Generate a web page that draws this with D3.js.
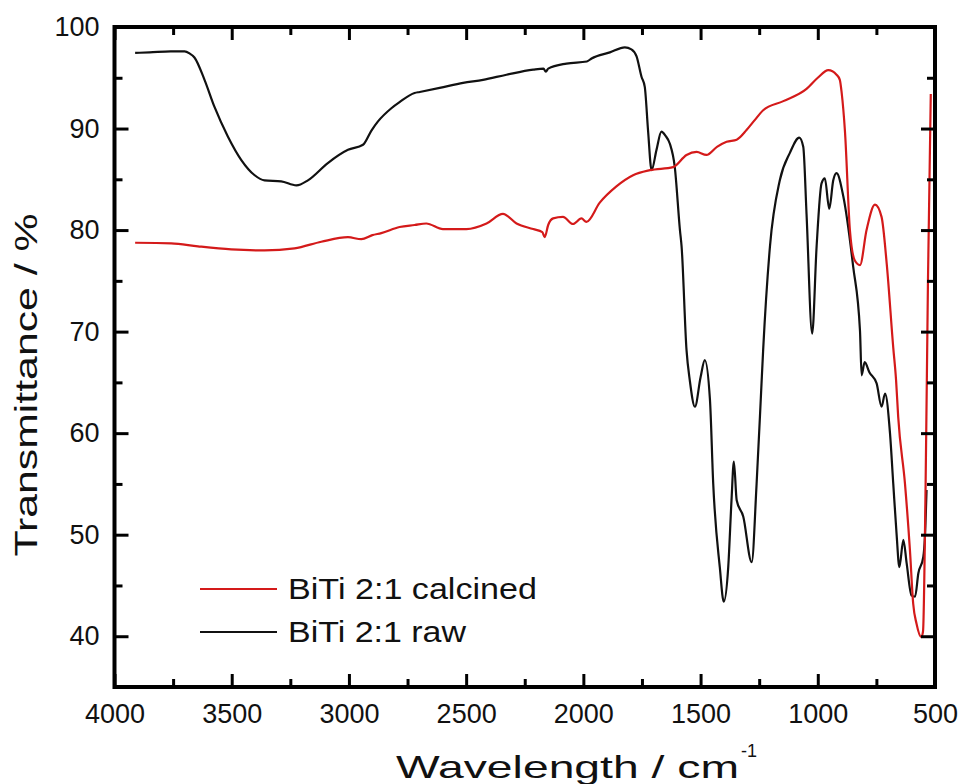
<!DOCTYPE html>
<html>
<head>
<meta charset="utf-8">
<script src="https://cdn.jsdelivr.net/npm/d3@7"></script>
<style>
  html, body { margin: 0; padding: 0; background: #fff; }
  svg { display: block; }
  text { font-family: "Liberation Sans", Arial, sans-serif; fill: #111; }
</style>
</head>
<body>
<svg id="chart" width="959" height="784"></svg>
<script>
// ---- data ----
const seriesNames = ["BiTi 2:1 calcined", "BiTi 2:1 raw"];
const seriesColors = ["#d41a1a", "#111111"];

const rawWavenumber = [3912,3850,3760,3701,3680,3659,3616,3573,3516,3459,3402,3360,3289,3224,3175,3090,3004,2940,2904,2876,2819,2784,2720,2698,2613,2513,2428,2328,2214,2170,2160,2150,2072,1985,1965,1887,1823,1795,1773,1752,1738,1724,1709,1688,1667,1650,1631,1610,1588,1581,1560,1546,1524,1500,1482,1460,1446,1418,1401,1382,1368,1358,1346,1318,1282,1261,1240,1233,1204,1162,1119,1079,1062,1048,1024,1005,984,970,951,934,920,891,849,820,813,800,780,749,728,713,692,678,664,652,635,621,600,585,571,550,543,536];
const rawT = [97.45,97.5,97.6,97.6,97.4,97.0,94.8,92.1,89.2,86.9,85.4,84.9,84.8,84.4,84.9,86.6,87.9,88.4,89.8,90.7,92.0,92.6,93.5,93.6,94.0,94.5,94.8,95.3,95.8,95.9,95.6,95.9,96.4,96.6,96.9,97.5,98.0,97.8,97.1,95.1,94.1,89.8,85.9,87.9,89.7,89.3,88.5,86.2,80.0,78.4,68.2,65.2,62.6,65.5,67.2,63.3,55.0,46.8,43.4,46.8,53.4,57.2,53.4,51.8,47.3,55.0,64.9,68.2,78.4,84.9,87.6,89.1,88.2,81.6,69.8,78.4,84.6,85.1,82.1,84.9,85.6,83.3,76.4,70.1,65.7,67.0,66.0,64.9,62.6,63.9,60.0,55.0,50.1,46.8,49.5,47.2,44.0,43.9,46.2,47.8,49.8,54.4];

const calWavenumber = [3912,3758,3644,3502,3360,3232,3118,3004,2947,2900,2862,2784,2720,2670,2599,2499,2413,2343,2285,2214,2175,2165,2150,2129,2087,2044,2008,1987,1930,1859,1788,1716,1617,1560,1517,1475,1430,1389,1346,1304,1270,1233,1147,1048,1000,955,920,906,898,884,863,842,820,792,756,728,706,678,666,657,628,607,593,579,558,551,540,530,518];
const calT = [78.75,78.7,78.4,78.1,78.0,78.2,78.85,79.3,79.1,79.5,79.7,80.3,80.5,80.65,80.1,80.1,80.65,81.6,80.65,80.1,79.8,79.3,80.5,81.15,81.3,80.6,81.15,80.8,82.7,84.3,85.4,85.9,86.2,87.4,87.7,87.4,88.2,88.7,88.9,89.85,90.8,91.8,92.7,93.9,95.0,95.75,95.3,94.8,93.5,89.7,80.0,77.0,76.55,80.0,82.5,81.3,76.7,68.4,65.2,61.6,55.0,48.5,43.2,41.25,39.9,40.5,55,75,93.4];

const xMajorTicks = [4000,3500,3000,2500,2000,1500,1000,500];
const yMajorTicks = [40,50,60,70,80,90,100];
const xTitle = "Wavelength / cm";
const xTitleSup = "-1";
const yTitle = "Transmittance / %";

// ---- layout ----
const L = 114.5, R = 935, T = 27, B = 687;
const svg = d3.select("#chart");

const x = d3.scaleLinear().domain([4000, 500]).range([L, R]);
const y = d3.scaleLinear().domain([35, 100]).range([B, T]);

const clipId = "plotclip";
svg.append("defs").append("clipPath").attr("id", clipId)
  .append("rect").attr("x", L).attr("y", T).attr("width", R - L).attr("height", B - T);

const line = d3.line().x(d => x(d[0])).y(d => y(d[1])).curve(d3.curveMonotoneX);

const rawData = rawWavenumber.map((w, i) => [w, rawT[i]]);
const calData = calWavenumber.map((w, i) => [w, calT[i]]);

const plot = svg.append("g").attr("clip-path", `url(#${clipId})`);
plot.append("path").datum(rawData).attr("d", line)
  .attr("fill", "none").attr("stroke", seriesColors[1]).attr("stroke-width", 2.2)
  .attr("stroke-linejoin", "round");
plot.append("path").datum(calData).attr("d", line)
  .attr("fill", "none").attr("stroke", seriesColors[0]).attr("stroke-width", 2.2)
  .attr("stroke-linejoin", "round");

// ---- axes (ticks inward on all sides) ----
const xMinor = d3.range(3750, 500, -500);
const yMinor = d3.range(45, 100, 10);
const tickW = 3;

function styleAxis(g) {
  g.select(".domain").remove();
  g.selectAll(".tick line").attr("stroke", "#000").attr("stroke-width", tickW);
  g.selectAll(".tick text").style("font-size", "27px").attr("fill", "#111");
}

// bottom
svg.append("g").attr("transform", `translate(0,${B})`)
  .call(d3.axisBottom(x).tickValues(xMajorTicks).tickSize(-13).tickPadding(17).tickFormat(d3.format("d")))
  .call(styleAxis);
svg.append("g").attr("transform", `translate(0,${B})`)
  .call(d3.axisBottom(x).tickValues(xMinor).tickSize(-8).tickFormat(""))
  .call(styleAxis);
// top
svg.append("g").attr("transform", `translate(0,${T})`)
  .call(d3.axisTop(x).tickValues(xMajorTicks).tickSize(-13).tickFormat(""))
  .call(styleAxis);
svg.append("g").attr("transform", `translate(0,${T})`)
  .call(d3.axisTop(x).tickValues(xMinor).tickSize(-8).tickFormat(""))
  .call(styleAxis);
// left
svg.append("g").attr("transform", `translate(${L},0)`)
  .call(d3.axisLeft(y).tickValues(yMajorTicks).tickSize(-14).tickPadding(15).tickFormat(d3.format("d")))
  .call(styleAxis);
svg.append("g").attr("transform", `translate(${L},0)`)
  .call(d3.axisLeft(y).tickValues(yMinor).tickSize(-8).tickFormat(""))
  .call(styleAxis);
// right
svg.append("g").attr("transform", `translate(${R},0)`)
  .call(d3.axisRight(y).tickValues(yMajorTicks).tickSize(-14).tickFormat(""))
  .call(styleAxis);
svg.append("g").attr("transform", `translate(${R},0)`)
  .call(d3.axisRight(y).tickValues(yMinor).tickSize(-8).tickFormat(""))
  .call(styleAxis);

// frame
svg.append("rect").attr("x", L).attr("y", T).attr("width", R - L).attr("height", B - T)
  .attr("fill", "none").attr("stroke", "#000").attr("stroke-width", 4);

// ---- titles ----
svg.append("text").attr("x", 396).attr("y", 778)
  .attr("textLength", 343).attr("lengthAdjust", "spacingAndGlyphs")
  .style("font-size", "32px").text(xTitle);
svg.append("text").attr("x", 741).attr("y", 757)
  .attr("textLength", 16).attr("lengthAdjust", "spacingAndGlyphs")
  .style("font-size", "19px").text(xTitleSup);

svg.append("text")
  .attr("transform", `translate(37,${385}) rotate(-90)`)
  .attr("text-anchor", "middle")
  .attr("textLength", 343).attr("lengthAdjust", "spacingAndGlyphs")
  .style("font-size", "32px").text(yTitle);

// ---- legend ----
const legendY = [589, 632];
const legendLen = [249, 178];
seriesNames.forEach((name, i) => {
  svg.append("line").attr("x1", 200).attr("x2", 277).attr("y1", legendY[i]).attr("y2", legendY[i])
    .attr("stroke", seriesColors[i]).attr("stroke-width", 2.2);
  svg.append("text").attr("x", 288).attr("y", legendY[i] + 10)
    .attr("textLength", legendLen[i]).attr("lengthAdjust", "spacingAndGlyphs")
    .style("font-size", "29px").text(name);
});
</script>
</body>
</html>
